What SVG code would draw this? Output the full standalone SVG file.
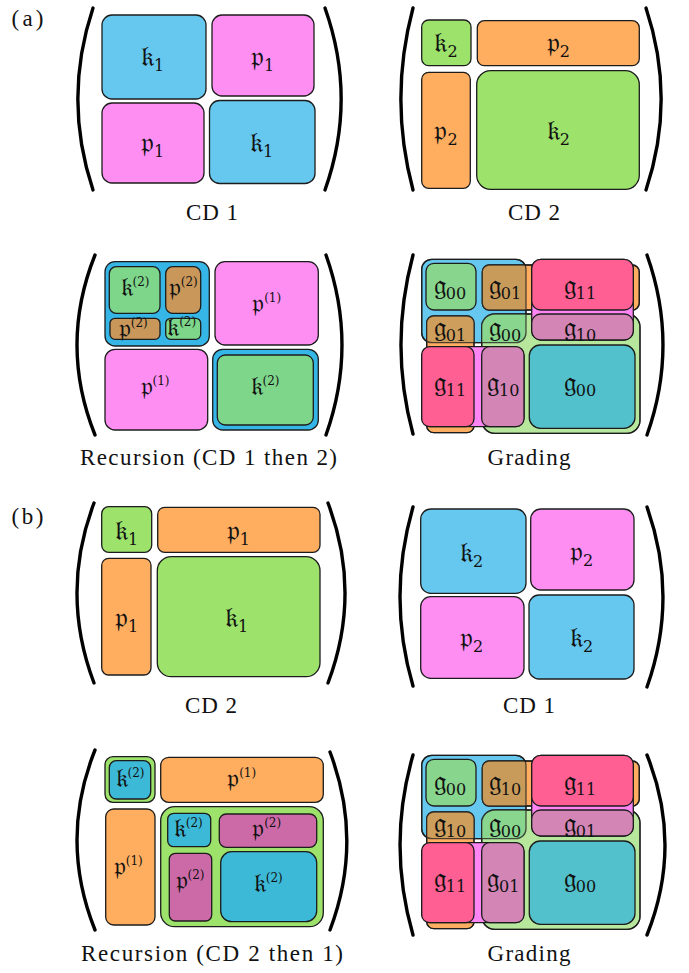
<svg xmlns="http://www.w3.org/2000/svg" width="689" height="973" viewBox="0 0 689 973">
  <style>
    .cell { stroke: #1c1c1c; stroke-width: 1.3; }
    .edge { fill: none; stroke: #1c1c1c; stroke-width: 1.3; }
    .paren { fill: none; stroke: #000; stroke-width: 3.4; stroke-linecap: round; }
    .blue { fill: #66C8EE; }
    .pink { fill: #FF8EF3; }
    .green { fill: #9DE26B; }
    .orange { fill: #FFAD5F; }
    .dblue { fill: #36B6E6; }
    .mgreen { fill: #7ED68A; }
    .brown { fill: #C9975A; }
    .rblue { fill: #3CB9D6; }
    .mauve { fill: #CC6AA8; }
    .m { font-family: "DejaVu Serif", "Liberation Serif", serif; font-size: 28px; text-anchor: middle; fill: #111; }
    .r { font-size: 26px; }
    .sb { font-size: 16px; }
    .sp { font-size: 12px; }
    .cap { font-family: "Liberation Serif", "DejaVu Serif", serif; font-size: 23px; text-anchor: middle; fill: #111; }
  </style>
  <defs>
    <clipPath id="clipB1" clipPathUnits="userSpaceOnUse">
      <rect x="421.7" y="259.3" width="104.3" height="83.4" rx="10"/>
    </clipPath>
  </defs>

  <text class="cap" x="27.5" y="26" font-size="22" textLength="32">(a)</text>
  <text class="cap" x="27.5" y="524" font-size="22" textLength="32">(b)</text>

  <!-- (a) CD 1 -->
  <g id="a-cd1">
    <path class="paren" d="M93 8 C73 68 73 130 93 190"/>
    <path class="paren" d="M325 8 C346.3 68 346.3 130 325 190"/>
    <rect class="cell blue" x="102" y="15" width="104" height="84" rx="10"/>
    <rect class="cell pink" x="212" y="15" width="102" height="81" rx="10"/>
    <rect class="cell pink" x="102" y="103" width="102" height="80" rx="10"/>
    <rect class="cell blue" x="209.5" y="100.5" width="105.5" height="83" rx="10"/>
    <text class="m" x="152.7" y="65.5">𝔨<tspan class="sb" dy="5">1</tspan></text>
    <text class="m" x="262.7" y="65.5">𝔭<tspan class="sb" dy="5">1</tspan></text>
    <text class="m" x="152.7" y="151.5">𝔭<tspan class="sb" dy="5">1</tspan></text>
    <text class="m" x="261.7" y="151.5">𝔨<tspan class="sb" dy="5">1</tspan></text>
    <text class="cap" x="212" y="220" textLength="52">CD 1</text>
  </g>

  <!-- (a) CD 2 -->
  <g id="a-cd2">
    <path class="paren" d="M413 8 C397 68 397 130 413 190"/>
    <path class="paren" d="M646 8 C666 68 666 130 646 190"/>
    <rect class="cell green" x="421.7" y="20" width="49.3" height="45.7" rx="7"/>
    <rect class="cell orange" x="477.3" y="20.7" width="162" height="45" rx="7"/>
    <rect class="cell orange" x="421.7" y="72.3" width="48.6" height="116" rx="7"/>
    <rect class="cell green" x="476.7" y="70.7" width="162.6" height="118.6" rx="14"/>
    <text class="m" x="446" y="51.5">𝔨<tspan class="sb" dy="5">2</tspan></text>
    <text class="m" x="558.3" y="51.5">𝔭<tspan class="sb" dy="5">2</tspan></text>
    <text class="m" x="446" y="140">𝔭<tspan class="sb" dy="5">2</tspan></text>
    <text class="m" x="558.3" y="140">𝔨<tspan class="sb" dy="5">2</tspan></text>
    <text class="cap" x="534" y="220" textLength="52">CD 2</text>
  </g>

  <!-- (a) recursion -->
  <g id="a-rec">
    <path class="paren" d="M95 255 C71 315 71 375 95 435"/>
    <path class="paren" d="M326 255 C347.3 315 347.3 375 326 435"/>
    <rect class="cell dblue" x="105" y="261.7" width="104.3" height="84.3" rx="10"/>
    <rect class="cell mgreen" x="109.3" y="266.7" width="50.7" height="46.6" rx="7"/>
    <rect class="cell brown" x="165.7" y="266.7" width="35" height="46.6" rx="7"/>
    <rect class="cell brown" x="110" y="318.3" width="50" height="21" rx="5"/>
    <rect class="cell mgreen" x="165.7" y="318.3" width="35" height="21" rx="5"/>
    <rect class="cell pink" x="215" y="261.7" width="103.3" height="83.3" rx="10"/>
    <rect class="cell pink" x="105" y="349.3" width="102.7" height="80.7" rx="10"/>
    <rect class="cell dblue" x="212.7" y="349.3" width="105.6" height="80.7" rx="10"/>
    <rect class="cell mgreen" x="217.3" y="355" width="96" height="70" rx="8"/>
    <text class="m r" x="135" y="295.5">𝔨<tspan class="sp" dy="-10">(2)</tspan></text>
    <text class="m r" x="183.3" y="295.5">𝔭<tspan class="sp" dy="-10">(2)</tspan></text>
    <text class="m r" x="133.3" y="336.5">𝔭<tspan class="sp" dy="-10">(2)</tspan></text>
    <text class="m r" x="181.7" y="335.5">𝔨<tspan class="sp" dy="-10">(2)</tspan></text>
    <text class="m r" x="266.7" y="311.5">𝔭<tspan class="sp" dy="-10">(1)</tspan></text>
    <text class="m r" x="155" y="395">𝔭<tspan class="sp" dy="-10">(1)</tspan></text>
    <text class="m r" x="265" y="395">𝔨<tspan class="sp" dy="-10">(2)</tspan></text>
    <text class="cap" x="208.5" y="465" textLength="257">Recursion (CD 1 then 2)</text>
  </g>

  <!-- (a) grading -->
  <g id="a-grading">
    <path class="paren" d="M413 255 C397 315 397 375 413 434"/>
    <path class="paren" d="M647 255 C668.3 315 668.3 375 647 435"/>
    <rect class="cell" fill="#66C8EE" x="421.7" y="259.3" width="104.3" height="83.4" rx="10"/>
    <rect class="cell" fill="#FFAD60" x="482.3" y="265" width="157" height="45" rx="7"/>
    <rect class="cell" fill="#FFAD60" x="426.7" y="316" width="47.3" height="116.7" rx="7"/>
    <rect class="cell" fill="#B6E79C" x="481.7" y="314" width="158.3" height="119.3" rx="13"/>
    <g clip-path="url(#clipB1)">
      <rect fill="#C99B5B" x="482.3" y="265" width="157" height="45" rx="7"/>
      <rect fill="#CE9E5C" x="426.7" y="316" width="47.3" height="116.7" rx="7"/>
      <rect fill="#89D68E" x="481.7" y="314" width="158.3" height="119.3" rx="13"/>
    </g>
    <rect class="cell" fill="#88D68D" x="426" y="263.3" width="50" height="46.7" rx="8"/>
    <g class="edge" stroke-opacity="0.75">
      <rect x="421.7" y="259.3" width="104.3" height="83.4" rx="10"/>
      <rect x="482.3" y="265" width="157" height="45" rx="7"/>
      <rect x="426.7" y="316" width="47.3" height="116.7" rx="7"/>
      <rect x="481.7" y="314" width="158.3" height="119.3" rx="13"/>
    </g>
    <rect class="cell" fill="#FF85F4" x="531.7" y="259.3" width="101.6" height="80.7" rx="10"/>
    <rect class="cell" fill="#FF85F4" x="421.7" y="346.7" width="102.3" height="80" rx="10"/>
    <rect class="cell" fill="#FF5F93" x="531.7" y="259.3" width="101.6" height="50.7" rx="9"/>
    <rect class="cell" fill="#D386B6" x="531.7" y="314" width="101.6" height="26" rx="9"/>
    <rect class="cell" fill="#FF5F93" x="421.7" y="346.7" width="52.3" height="80" rx="8"/>
    <rect class="cell" fill="#D386B6" x="481.7" y="346.7" width="42.3" height="80" rx="8"/>
    <rect class="cell" fill="#52C1CC" x="529.3" y="345" width="105.7" height="83.3" rx="11"/>
    <text class="m" x="450" y="295">𝔤<tspan class="sb" dy="4">00</tspan></text>
    <text class="m" x="505" y="295">𝔤<tspan class="sb" dy="4">01</tspan></text>
    <text class="m" x="580" y="295">𝔤<tspan class="sb" dy="4">11</tspan></text>
    <text class="m" x="450" y="336.5">𝔤<tspan class="sb" dy="4">01</tspan></text>
    <text class="m" x="505" y="336.5">𝔤<tspan class="sb" dy="4">00</tspan></text>
    <text class="m" x="580" y="336.5">𝔤<tspan class="sb" dy="4">10</tspan></text>
    <text class="m" x="450" y="391.5">𝔤<tspan class="sb" dy="4">11</tspan></text>
    <text class="m" x="503.3" y="391.5">𝔤<tspan class="sb" dy="4">10</tspan></text>
    <text class="m" x="580" y="391.5">𝔤<tspan class="sb" dy="4">00</tspan></text>
    <text class="cap" x="529" y="465" textLength="83">Grading</text>
  </g>

  <!-- (b) CD 2 -->
  <g id="b-cd2">
    <path class="paren" d="M94 503 C71.3 563 71.3 623 94 683"/>
    <path class="paren" d="M328 503 C350.7 563 350.7 623 328 683"/>
    <rect class="cell green" x="101.7" y="506.7" width="50" height="45.6" rx="7"/>
    <rect class="cell orange" x="157.7" y="507.3" width="162.3" height="45" rx="7"/>
    <rect class="cell orange" x="101.7" y="558.3" width="49.3" height="116.7" rx="7"/>
    <rect class="cell green" x="157.3" y="556.7" width="162.7" height="120" rx="14"/>
    <text class="m" x="126.7" y="540">𝔨<tspan class="sb" dy="5">1</tspan></text>
    <text class="m" x="238.3" y="540">𝔭<tspan class="sb" dy="5">1</tspan></text>
    <text class="m" x="126.7" y="626.5">𝔭<tspan class="sb" dy="5">1</tspan></text>
    <text class="m" x="236.7" y="626.5">𝔨<tspan class="sb" dy="5">1</tspan></text>
    <text class="cap" x="211" y="713" textLength="52">CD 2</text>
  </g>

  <!-- (b) CD 1 -->
  <g id="b-cd1">
    <path class="paren" d="M413 507 C395.7 567 395.7 627 413 686"/>
    <path class="paren" d="M647 507 C668.3 567 668.3 627 647 687"/>
    <rect class="cell blue" x="420.7" y="509" width="105.3" height="84.3" rx="10"/>
    <rect class="cell pink" x="530.7" y="509" width="103.3" height="81" rx="10"/>
    <rect class="cell pink" x="420.7" y="596.7" width="103.3" height="81.6" rx="10"/>
    <rect class="cell blue" x="529" y="595" width="105" height="84" rx="10"/>
    <text class="m" x="471.7" y="561.5">𝔨<tspan class="sb" dy="5">2</tspan></text>
    <text class="m" x="581.7" y="560.5">𝔭<tspan class="sb" dy="5">2</tspan></text>
    <text class="m" x="471.7" y="646.5">𝔭<tspan class="sb" dy="5">2</tspan></text>
    <text class="m" x="581.7" y="646.5">𝔨<tspan class="sb" dy="5">2</tspan></text>
    <text class="cap" x="529" y="713" textLength="52">CD 1</text>
  </g>

  <!-- (b) recursion -->
  <g id="b-rec">
    <path class="paren" d="M95 750 C71 810 71 870 95 930"/>
    <path class="paren" d="M330 752 C352.7 812 352.7 870 330 930"/>
    <rect class="cell green" x="105" y="756.7" width="50" height="45.6" rx="8"/>
    <rect class="cell rblue" x="109.3" y="760.7" width="41.4" height="38.3" rx="7"/>
    <rect class="cell orange" x="160.7" y="757.3" width="162.6" height="45" rx="8"/>
    <rect class="cell orange" x="105.7" y="809" width="49.3" height="116" rx="8"/>
    <rect class="cell green" x="160.7" y="806.7" width="162.6" height="120" rx="14"/>
    <rect class="cell rblue" x="167.7" y="813.3" width="43" height="33.4" rx="6"/>
    <rect class="cell mauve" x="219.3" y="814" width="97.4" height="33.3" rx="7"/>
    <rect class="cell mauve" x="169.3" y="853.3" width="42.4" height="67.7" rx="6"/>
    <rect class="cell rblue" x="220.7" y="851.7" width="96" height="70" rx="11"/>
    <text class="m r" x="130" y="786.5">𝔨<tspan class="sp" dy="-10">(2)</tspan></text>
    <text class="m r" x="241.7" y="786.5">𝔭<tspan class="sp" dy="-10">(1)</tspan></text>
    <text class="m r" x="188.3" y="836.5">𝔨<tspan class="sp" dy="-10">(2)</tspan></text>
    <text class="m r" x="266.7" y="836.5">𝔭<tspan class="sp" dy="-10">(2)</tspan></text>
    <text class="m r" x="128.3" y="874.5">𝔭<tspan class="sp" dy="-10">(1)</tspan></text>
    <text class="m r" x="190" y="888.5">𝔭<tspan class="sp" dy="-10">(2)</tspan></text>
    <text class="m r" x="268.3" y="891.5">𝔨<tspan class="sp" dy="-10">(2)</tspan></text>
    <text class="cap" x="212" y="961" textLength="262">Recursion (CD 2 then 1)</text>
  </g>

  <!-- (b) grading: same cell layout, shifted down -->
  <g id="b-grading" transform="translate(0 496)">
    <path class="paren" d="M413 259 C395.7 319 395.7 379 413 439"/>
    <path class="paren" d="M647 259 C671 319 671 379 647 439"/>
    <rect class="cell" fill="#66C8EE" x="421.7" y="259.3" width="104.3" height="83.4" rx="10"/>
    <rect class="cell" fill="#FFAD60" x="482.3" y="265" width="157" height="45" rx="7"/>
    <rect class="cell" fill="#FFAD60" x="426.7" y="316" width="47.3" height="116.7" rx="7"/>
    <rect class="cell" fill="#B6E79C" x="481.7" y="314" width="158.3" height="119.3" rx="13"/>
    <g clip-path="url(#clipB1)">
      <rect fill="#C99B5B" x="482.3" y="265" width="157" height="45" rx="7"/>
      <rect fill="#CE9E5C" x="426.7" y="316" width="47.3" height="116.7" rx="7"/>
      <rect fill="#89D68E" x="481.7" y="314" width="158.3" height="119.3" rx="13"/>
    </g>
    <rect class="cell" fill="#88D68D" x="426" y="263.3" width="50" height="46.7" rx="8"/>
    <g class="edge" stroke-opacity="0.75">
      <rect x="421.7" y="259.3" width="104.3" height="83.4" rx="10"/>
      <rect x="482.3" y="265" width="157" height="45" rx="7"/>
      <rect x="426.7" y="316" width="47.3" height="116.7" rx="7"/>
      <rect x="481.7" y="314" width="158.3" height="119.3" rx="13"/>
    </g>
    <rect class="cell" fill="#FF85F4" x="531.7" y="259.3" width="101.6" height="80.7" rx="10"/>
    <rect class="cell" fill="#FF85F4" x="421.7" y="346.7" width="102.3" height="80" rx="10"/>
    <rect class="cell" fill="#FF5F93" x="531.7" y="259.3" width="101.6" height="50.7" rx="9"/>
    <rect class="cell" fill="#D386B6" x="531.7" y="314" width="101.6" height="26" rx="9"/>
    <rect class="cell" fill="#FF5F93" x="421.7" y="346.7" width="52.3" height="80" rx="8"/>
    <rect class="cell" fill="#D386B6" x="481.7" y="346.7" width="42.3" height="80" rx="8"/>
    <rect class="cell" fill="#52C1CC" x="529.3" y="345" width="105.7" height="83.3" rx="11"/>
    <text class="m" x="450" y="295">𝔤<tspan class="sb" dy="4">00</tspan></text>
    <text class="m" x="505" y="295">𝔤<tspan class="sb" dy="4">10</tspan></text>
    <text class="m" x="580" y="295">𝔤<tspan class="sb" dy="4">11</tspan></text>
    <text class="m" x="450" y="336.5">𝔤<tspan class="sb" dy="4">10</tspan></text>
    <text class="m" x="505" y="336.5">𝔤<tspan class="sb" dy="4">00</tspan></text>
    <text class="m" x="580" y="336.5">𝔤<tspan class="sb" dy="4">01</tspan></text>
    <text class="m" x="450" y="391.5">𝔤<tspan class="sb" dy="4">11</tspan></text>
    <text class="m" x="503.3" y="391.5">𝔤<tspan class="sb" dy="4">01</tspan></text>
    <text class="m" x="580" y="391.5">𝔤<tspan class="sb" dy="4">00</tspan></text>
    <text class="cap" x="529" y="465" textLength="83">Grading</text>
  </g>
</svg>
